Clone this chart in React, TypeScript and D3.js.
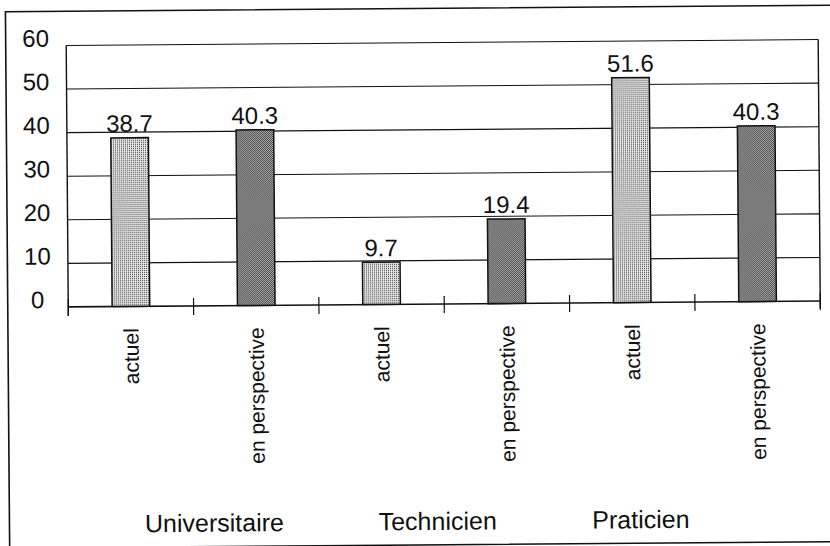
import React from "react";
import * as d3 from "d3";

const categories = ["actuel", "en perspective", "actuel", "en perspective", "actuel", "en perspective"];
const seriesKind = ["actuel", "perspective", "actuel", "perspective", "actuel", "perspective"];
const values = [38.7, 40.3, 9.7, 19.4, 51.6, 40.3];
const groups = ["Universitaire", "Technicien", "Praticien"];
const yTicks = [0, 10, 20, 30, 40, 50, 60];

const W = 830;
const H = 546;
const FONT = "'Liberation Sans', Arial, Helvetica, sans-serif";

export default function App() {
  const x = d3.scaleBand<number>().domain(d3.range(values.length)).range([68, 820]).padding(0);
  const y = d3.scaleLinear().domain([0, 60]).range([304.2, 42.7]);
  const bw = x.bandwidth();
  const barW = bw * 0.3;
  const y0 = y(0);
  const boundaries = d3.range(values.length + 1).map((i) => 68 + i * bw);
  // group label start positions relative to band starts (layout)
  const groupLabelX = [x(0)! + 75, x(2)! + 58, x(4)! + 21];

  return (
    <svg
      width={W}
      height={H}
      viewBox={`0 0 ${W} ${H}`}
      style={{ position: "absolute", left: 0, top: 0, background: "#fff" }}
    >
      <defs>
        <pattern id="light" width="2" height="2" patternUnits="userSpaceOnUse">
          <rect width="2" height="2" fill="#e4e4e4" />
          <rect width="1" height="1" fill="#444" />
        </pattern>
        <pattern id="dark" width="2" height="2" patternUnits="userSpaceOnUse">
          <rect width="2" height="2" fill="#cccccc" />
          <rect width="1" height="1" fill="#2a2a2a" />
          <rect x="1" y="1" width="1" height="1" fill="#2a2a2a" />
        </pattern>
      </defs>
      <rect width={W} height={H} fill="#fff" />
      <g transform="rotate(-0.45 415 273)">
        {/* outer frame */}
        <rect x={7.5} y={8.5} width={840} height={536.5} fill="none" stroke="#111" strokeWidth={1.6} />

        {/* gridlines */}
        {yTicks.map((t) => (
          <line key={"g" + t} x1={68} x2={820} y1={y(t)} y2={y(t)} stroke="#111" strokeWidth={t === 0 ? 1.6 : 1.1} />
        ))}
        {/* plot box sides */}
        <line x1={68} x2={68} y1={y(60)} y2={y0 + 9} stroke="#111" strokeWidth={1.4} />
        <line x1={820} x2={820} y1={y(60)} y2={y0 + 7} stroke="#111" strokeWidth={1.4} />
        {/* x ticks */}
        {boundaries.map((bx, i) => (
          <line key={"t" + i} x1={bx} x2={bx} y1={y0 - 8} y2={y0 + 9} stroke="#111" strokeWidth={1.2} />
        ))}

        {/* y labels */}
        {yTicks.map((t) => (
          <text
            key={"yl" + t}
            x={37.5}
            y={y(t) + 1}
            textAnchor="middle"
            fontFamily={FONT}
            fontSize={24}
            fill="#111"
          >
            {t}
          </text>
        ))}

        {/* bars */}
        {values.map((v, i) => {
          const cx = x(i)! + bw / 2;
          return (
            <g key={"b" + i}>
              <rect
                x={cx - barW / 2}
                y={y(v)}
                width={barW}
                height={y0 - y(v)}
                fill={seriesKind[i] === "actuel" ? "url(#light)" : "url(#dark)"}
                stroke="#111"
                strokeWidth={1.5}
              />
              <text
                x={cx}
                y={y(v) - 6}
                textAnchor="middle"
                fontFamily={FONT}
                fontSize={24}
                fill="#111"
              >
                {v.toFixed(1)}
              </text>
            </g>
          );
        })}

        {/* category labels (rotated) */}
        {categories.map((c, i) => {
          const cx = x(i)! + bw / 2;
          const ty = 326;
          return (
            <text
              key={"c" + i}
              transform={`translate(${cx},${ty}) rotate(-90)`}
              textAnchor="end"
              dy="0.35em"
              fontFamily={FONT}
              fontSize={21}
              fill="#111"
            >
              {c}
            </text>
          );
        })}

        {/* group labels */}
        {groups.map((g, i) => (
          <text
            key={"grp" + i}
            x={groupLabelX[i]}
            y={530}
            textAnchor="start"
            fontFamily={FONT}
            fontSize={25}
            fill="#111"
          >
            {g}
          </text>
        ))}
      </g>
    </svg>
  );
}
